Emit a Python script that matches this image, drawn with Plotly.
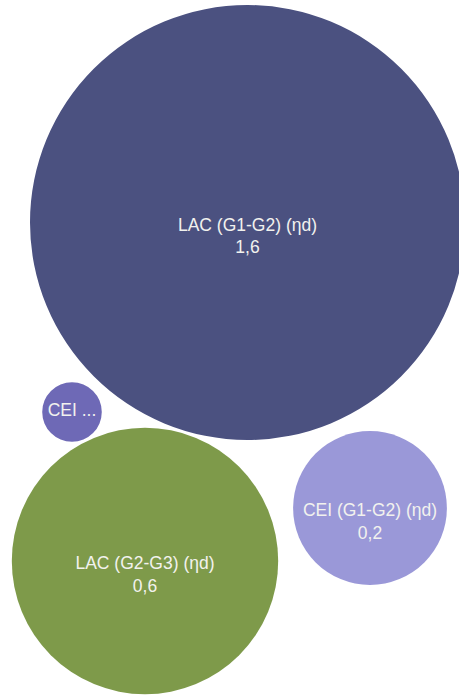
import math
import plotly.graph_objects as go

# ---- data ----
names = ["LAC (G1-G2) (ηd)", "CEI ...", "LAC (G2-G3) (ηd)", "CEI (G1-G2) (ηd)"]
values = [1.6, 0.03, 0.6, 0.2]
value_labels = ["1,6", "", "0,6", "0,2"]

# ---- layout (packed positions, pixel space) ----
centers_x = [247.5, 72, 145, 370]
centers_y = [222.5, 412, 561, 508]
colors = ["#4B5180", "#6E69B6", "#7E9A4A", "#9A98D8"]
scale = 217.5 / math.sqrt(1.6)
label_offset = 15

W, H = 459, 695

fig = go.Figure()
shapes = []
for cx, cy, v, c in zip(centers_x, centers_y, values, colors):
    r = scale * math.sqrt(v)
    shapes.append(dict(type="circle", xref="x", yref="y",
                       x0=cx - r, x1=cx + r, y0=cy - r, y1=cy + r,
                       fillcolor=c, line=dict(width=0), layer="below"))

texts = []
ty = []
for n, lab, cy, v in zip(names, value_labels, centers_y, values):
    if lab:
        texts.append(f"{n}<br>{lab}")
        ty.append(cy + label_offset)
    else:
        texts.append(n)
        ty.append(cy)

fig.add_trace(go.Scatter(x=centers_x, y=ty, mode="text", text=texts,
                         textposition="middle center",
                         textfont=dict(family="Liberation Sans, Arial", size=17.5, color="#F2F2EE"),
                         hoverinfo="skip", showlegend=False))

fig.update_layout(width=W, height=H, margin=dict(l=0, r=0, t=0, b=0),
                  paper_bgcolor="white", plot_bgcolor="white", shapes=shapes,
                  xaxis=dict(range=[0, W], visible=False, fixedrange=True),
                  yaxis=dict(range=[H, 0], visible=False, fixedrange=True),
                  showlegend=False)
fig.write_html("out.html")
